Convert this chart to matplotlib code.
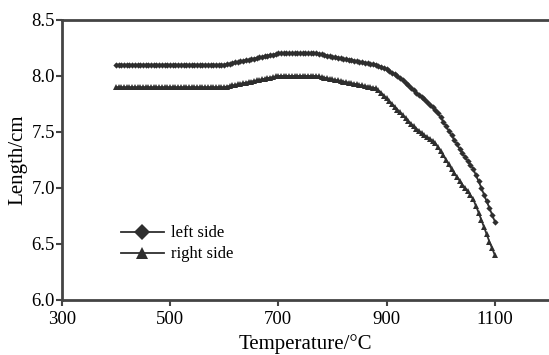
import numpy as np
from matplotlib import pyplot as plt

plt.rcParams['font.family'] = ['Liberation Serif', 'DejaVu Serif']

# temperature (°C), readings every 5 degrees
temp = list(range(400, 1101, 5))

left_side = [8.10]*41 + [
    8.105, 8.11, 8.115, 8.12, 8.125, 8.13, 8.135, 8.14, 8.145, 8.15,
    8.155, 8.16, 8.165, 8.17, 8.175, 8.18, 8.185, 8.19, 8.195, 8.20] + [8.20]*14 + [
    8.196, 8.191, 8.186, 8.182, 8.177, 8.173, 8.168, 8.164, 8.159, 8.155, 8.150,
    8.145, 8.141, 8.136, 8.132, 8.127, 8.123, 8.118, 8.114, 8.109, 8.105, 8.100,
    8.09, 8.08, 8.07, 8.06, 8.045, 8.03, 8.015, 8.00, 7.98, 7.96, 7.94,
    7.92, 7.895, 7.87, 7.85, 7.83, 7.81, 7.79, 7.765, 7.74, 7.72, 7.70,
    7.665, 7.63, 7.59, 7.55, 7.51, 7.47, 7.43, 7.39, 7.35, 7.31, 7.275,
    7.24, 7.205, 7.17, 7.115, 7.06, 7.00, 6.94, 6.88, 6.82, 6.76, 6.70]

right_side = [7.90]*41 + [
    7.905, 7.91, 7.915, 7.92, 7.925, 7.93, 7.935, 7.94, 7.945, 7.95,
    7.955, 7.96, 7.965, 7.97, 7.975, 7.98, 7.985, 7.99, 7.995, 8.00] + [8.00]*14 + [
    7.995, 7.99, 7.985, 7.98, 7.975, 7.97, 7.965, 7.96, 7.955, 7.95, 7.945,
    7.94, 7.935, 7.93, 7.925, 7.92, 7.915, 7.91, 7.905, 7.90, 7.895, 7.89,
    7.87, 7.85, 7.825, 7.80, 7.775, 7.75, 7.725, 7.70, 7.675, 7.65, 7.625,
    7.60, 7.575, 7.55, 7.53, 7.51, 7.49, 7.47, 7.455, 7.44, 7.42, 7.40,
    7.365, 7.33, 7.29, 7.25, 7.21, 7.17, 7.135, 7.10, 7.065, 7.03, 7.00,
    6.97, 6.935, 6.90, 6.84, 6.78, 6.715, 6.65, 6.585, 6.52, 6.46, 6.40]

xticks = [300, 500, 700, 900, 1100]
yticks = [6.0, 6.5, 7.0, 7.5, 8.0, 8.5]

fig = plt.figure(figsize=(5.49, 3.55), dpi=100)
ax = fig.add_axes([0.1124, 0.155, 0.8876, 0.789])

col = '#2e2e2e'
ax.plot(temp, left_side, color=col, lw=1.3, marker='D', ms=3.2, mew=0, label='left side')
ax.plot(temp, right_side, color=col, lw=1.3, marker='^', ms=3.8, mew=0, label='right side')

ax.set_xlim(300, 1200)
ax.set_ylim(6.0, 8.5)
ax.set_xticks(xticks)
ax.set_yticks(yticks)
ax.set_yticklabels(['%.1f' % v for v in yticks])
ax.tick_params(labelsize=13.5, direction='out', length=4, width=1.5, color='#444444', pad=1)
ax.tick_params(axis='x', pad=4)

ax.spines['right'].set_visible(False)
for s in ['left', 'bottom', 'top']:
    ax.spines[s].set_linewidth(2)
    ax.spines[s].set_color('#444444')

ax.set_xlabel('Temperature/°C', fontsize=15, labelpad=4)
ax.set_ylabel('Length/cm', fontsize=15, labelpad=3)

leg = ax.legend(loc='upper left', bbox_to_anchor=(0.09, 0.32), frameon=False, fontsize=12,
                handlelength=2.6, handletextpad=0.4, labelspacing=0.3, markerscale=2.4)

fig.savefig('out.png', dpi=100)
